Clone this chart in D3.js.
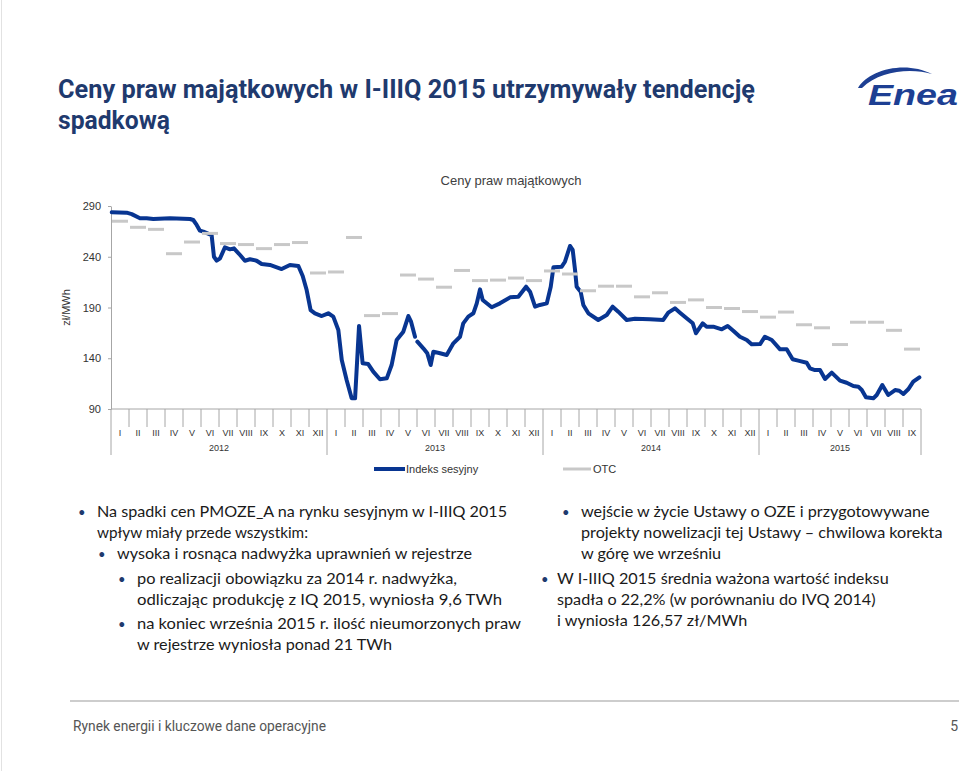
<!DOCTYPE html>
<html><head><meta charset="utf-8">
<script src="https://cdn.jsdelivr.net/npm/d3@7"></script>
<style>body{margin:0;background:#fff;} svg{display:block}</style>
</head><body>
<svg id="c" width="959" height="771"></svg>
<script>
// ---------- DATA ----------
const monthLabels = ["I","II","III","IV","V","VI","VII","VIII","IX","X","XI","XII"];
const years = ["2012","2013","2014","2015"];
const monthsInYear = [12,12,12,9];
const yTicks = [90,140,190,240,290];
// OTC monthly prices (Jan 2012 .. Sep 2015)
const otc = [275,269,267,243,254.5,263,253,252,248,252,254,224,
             225,259,182,184,222,218,210,226.5,216.5,217,219,216.5,
             226,223,206.5,211,211,200.5,204.5,195,197.5,190,189,186,
             180.5,185.5,173,170,153.5,175.5,175.5,167.5,149];
// Session index: time in months since Jan 2012, value zł/MWh
const sessionT = [0.04,0.87,1.15,1.61,1.98,2.35,3.28,4.39,4.57,4.76,4.94,5.13,5.59,5.72,5.87,6.06,6.33,6.61,6.83,7.17,7.44,7.72,8.09,8.37,8.83,9.21,9.48,9.94,10.41,10.65,10.87,11.09,11.33,11.71,12.07,12.35,12.63,12.82,13.09,13.37,13.56,13.78,13.98,14.29,14.57,14.94,15.32,15.59,15.87,16.24,16.52,16.67,16.89,16.95,17.02,17.35,17.57,17.76,17.91,18.28,18.65,19.02,19.39,19.57,19.85,20.13,20.32,20.5,20.65,21.15,21.61,22.17,22.63,23.06,23.28,23.56,23.83,24.21,24.43,24.58,25.04,25.22,25.5,25.65,25.78,25.87,26.09,26.24,26.52,27.07,27.54,27.87,28.18,28.65,29.11,29.94,30.68,30.96,31.33,31.61,31.98,32.32,32.5,32.68,32.87,33.09,33.46,33.93,34.26,34.57,34.94,35.32,35.59,36.06,36.33,36.71,37.17,37.54,37.67,37.87,38.18,38.65,38.83,39.11,39.39,39.67,40.04,40.5,40.87,41.24,41.52,41.71,41.94,42.35,42.54,42.85,43.18,43.56,43.79,44.02,44.29,44.57,44.91];
const sessionV = [283.8,283.4,282,277.9,278,277.2,278,277.2,276.2,271.3,265.7,264.7,261.4,240,236.1,238.5,249.3,247.3,248.3,241.7,236.1,237.5,236.1,232.9,231.9,229.6,227.9,231.9,230.9,221,207.2,187.5,184.3,181.6,184.3,181,167.8,138.3,118.6,100.5,100.5,171.8,135,134.3,126.8,119.3,120.2,133.3,158,166.2,181.6,176,161.2,null,156.3,149.8,144.9,133.3,146.5,144.9,143.2,154.7,161.2,174.4,181,184.3,194.1,207.9,197.4,190.2,194.1,200,200.6,210.5,205.6,190.8,192.5,194.1,210.5,229.6,230.2,235.1,250.6,246.7,227,210.5,205.6,192.5,184.3,177.7,182.6,190.8,185.9,177.7,179,178.4,177.7,184.9,189.2,184.9,179.4,174.4,164.6,169.5,174.4,171.1,171.1,168.5,171.8,167.1,161.2,158,153.7,154,161.2,158,148.8,148.8,144.9,139,137.6,135.6,130.1,128.4,128.4,119.6,125.8,117.9,115.9,112.7,112,108.7,101.5,100.5,103.8,113.6,103.8,108.7,108,104.8,109.4,116.9,121.2];

// ---------- DRAW ----------
const svg = d3.select("#c");
const BLUE = "#083591", GREY = "#c8c8c8", AX = "#a6a6a6", NAVY = "#1f3a6e";

// slide frame line at left
svg.append("line").attr("x1",1.5).attr("x2",1.5).attr("y1",0).attr("y2",771).attr("stroke","#e2e2e2");

// Title
const title = svg.append("g").attr("fill", NAVY).attr("font-family","Roboto, 'Liberation Sans', sans-serif").attr("font-weight","bold").attr("font-size",25);
title.append("text").attr("x",58).attr("y",98).attr("textLength",697).attr("lengthAdjust","spacingAndGlyphs").text("Ceny praw majątkowych w I-IIIQ 2015 utrzymywały tendencję");
title.append("text").attr("x",58).attr("y",129).attr("textLength",112).attr("lengthAdjust","spacingAndGlyphs").text("spadkową");

// Logo
const logo = svg.append("g").attr("fill","#1d3f93");
logo.append("path").attr("d","M858,88 C868,70 905,60 932,74 C912,68 880,70 862,88 Z");
logo.append("text").attr("x",868).attr("y",105).attr("font-family","'Liberation Sans', Arial, sans-serif").attr("font-weight","bold").attr("font-style","italic").attr("font-size",30).attr("textLength",90).attr("lengthAdjust","spacingAndGlyphs").text("Enea");

// Scales
const x = d3.scaleLinear().domain([0,45]).range([111,921]);
const y = d3.scaleLinear().domain([90,290]).range([409,206]);

const chart = svg.append("g").attr("font-family","'Liberation Sans', Arial, sans-serif").attr("fill","#333");

chart.append("text").attr("x",511).attr("y",185).attr("text-anchor","middle").attr("font-size",13).attr("fill","#404040").text("Ceny praw majątkowych");

// Y axis
const yAxis = chart.append("g").attr("transform",`translate(${x(0)},0)`)
  .call(d3.axisLeft(y).tickValues(yTicks).tickSizeInner(3).tickSizeOuter(0).tickPadding(7));
yAxis.select(".domain").attr("stroke",AX);
yAxis.selectAll(".tick line").attr("stroke",AX);
yAxis.selectAll(".tick text").attr("font-size",11).attr("fill","#333").attr("font-family","'Liberation Sans', Arial, sans-serif");

chart.append("text").attr("transform",`translate(70,${(y(90)+y(290))/2}) rotate(-90)`)
  .attr("text-anchor","middle").attr("font-size",11).attr("fill","#333").text("zł/MWh");

// X axis
const xa = chart.append("g");
xa.append("line").attr("x1",x(0)).attr("x2",x(45)).attr("y1",y(90)).attr("y2",y(90)).attr("stroke",AX);
const allMonths = [];
monthsInYear.forEach(n=>{ for(let m=0;m<n;m++) allMonths.push({label:monthLabels[m], i: allMonths.length}); });
const yearStarts = [0]; monthsInYear.forEach(n=>yearStarts.push(yearStarts[yearStarts.length-1]+n));
xa.selectAll("line.mt").data(d3.range(0,46)).join("line").attr("class","mt")
  .attr("x1",d=>x(d)).attr("x2",d=>x(d)).attr("y1",y(90)).attr("y2",d=>yearStarts.includes(d)?455:427)
  .attr("stroke",AX);
xa.selectAll("text.ml").data(allMonths).join("text").attr("class","ml")
  .attr("x",d=>x(d.i+0.5)).attr("y",436).attr("text-anchor","middle").attr("font-size",9).attr("fill","#333").text(d=>d.label);
xa.selectAll("text.yl").data(years).join("text").attr("class","yl")
  .attr("x",(d,i)=>x((yearStarts[i]+yearStarts[i+1])/2)).attr("y",451).attr("text-anchor","middle").attr("font-size",9).attr("fill","#333").text(d=>d);

// Session index line
const sessionData = sessionT.map((t,i)=>[t,sessionV[i]]);
chart.append("path").datum(sessionData)
  .attr("d", d3.line().defined(d=>d[1]!=null).x(d=>x(d[0])).y(d=>y(d[1])))
  .attr("fill","none").attr("stroke",BLUE).attr("stroke-width",4).attr("stroke-linejoin","round").attr("stroke-linecap","round");

// OTC monthly dashes
chart.selectAll("line.otc").data(otc).join("line").attr("class","otc")
  .attr("x1",(d,i)=>x(i)+1).attr("x2",(d,i)=>x(i+1)-1)
  .attr("y1",d=>y(d)).attr("y2",d=>y(d))
  .attr("stroke",GREY).attr("stroke-width",3);

// Legend
const lg = chart.append("g");
lg.append("line").attr("x1",374).attr("x2",405).attr("y1",469).attr("y2",469).attr("stroke",BLUE).attr("stroke-width",4);
lg.append("text").attr("x",406).attr("y",473).attr("font-size",11).attr("fill","#333").text("Indeks sesyjny");
lg.append("line").attr("x1",563).attr("x2",591).attr("y1",469).attr("y2",469).attr("stroke",GREY).attr("stroke-width",3);
lg.append("text").attr("x",593).attr("y",473).attr("font-size",11).attr("fill","#333").text("OTC");

// Bullet text
const bullets = [
  {bx:78, tx:97, y:517, w:410, text:"Na spadki cen PMOZE_A na rynku sesyjnym w I-IIIQ 2015", bullet:true},
  {bx:78, tx:97, y:538, w:211, text:"wpływ miały przede wszystkim:", bullet:false},
  {bx:98, tx:117, y:559, w:355, text:"wysoka i rosnąca nadwyżka uprawnień w rejestrze", bullet:true},
  {bx:118, tx:137, y:584, w:320, text:"po realizacji obowiązku za 2014 r. nadwyżka,", bullet:true},
  {bx:118, tx:137, y:605, w:365, text:"odliczając produkcję z IQ 2015, wyniosła 9,6 TWh", bullet:false},
  {bx:118, tx:137, y:629, w:384, text:"na koniec września 2015 r. ilość nieumorzonych praw", bullet:true},
  {bx:118, tx:137, y:650, w:255, text:"w rejestrze wyniosła ponad 21 TWh", bullet:false},
  {bx:562, tx:581, y:517, w:0, text:"wejście w życie Ustawy o OZE i przygotowywane", bullet:true},
  {bx:562, tx:581, y:538, w:0, text:"projekty nowelizacji tej Ustawy – chwilowa korekta", bullet:false},
  {bx:562, tx:581, y:559, w:0, text:"w górę we wrześniu", bullet:false},
  {bx:541, tx:557, y:584, w:0, text:"W I-IIIQ 2015 średnia ważona wartość indeksu", bullet:true},
  {bx:541, tx:557, y:605, w:0, text:"spadła o 22,2% (w porównaniu do IVQ 2014)", bullet:false},
  {bx:541, tx:557, y:626, w:0, text:"i wyniosła 126,57 zł/MWh", bullet:false}
];
const bt = svg.append("g").attr("font-family","Lato, 'Noto Sans', sans-serif").attr("font-size",16.2).attr("fill","#1a1a1a");
bullets.forEach(b=>{
  if(b.bullet) bt.append("text").attr("x",b.bx).attr("y",b.y).attr("fill",NAVY).attr("font-size",13).text("•");
  const t = bt.append("text").attr("x",b.tx).attr("y",b.y).text(b.text);
  if(b.w) t.attr("textLength",b.w).attr("lengthAdjust","spacingAndGlyphs");
});

// Footer
svg.append("line").attr("x1",70).attr("x2",959).attr("y1",701).attr("y2",701).attr("stroke","#bdbdbd").attr("stroke-width",1.5);
svg.append("text").attr("x",73).attr("y",731).attr("font-family","Roboto, 'Liberation Sans', sans-serif").attr("font-size",14).attr("fill","#555").attr("textLength",253).attr("lengthAdjust","spacingAndGlyphs").text("Rynek energii i kluczowe dane operacyjne");
svg.append("text").attr("x",958).attr("y",731).attr("text-anchor","end").attr("font-family","Roboto, 'Liberation Sans', sans-serif").attr("font-size",14).attr("fill","#555").text("5");
</script>
</body></html>
